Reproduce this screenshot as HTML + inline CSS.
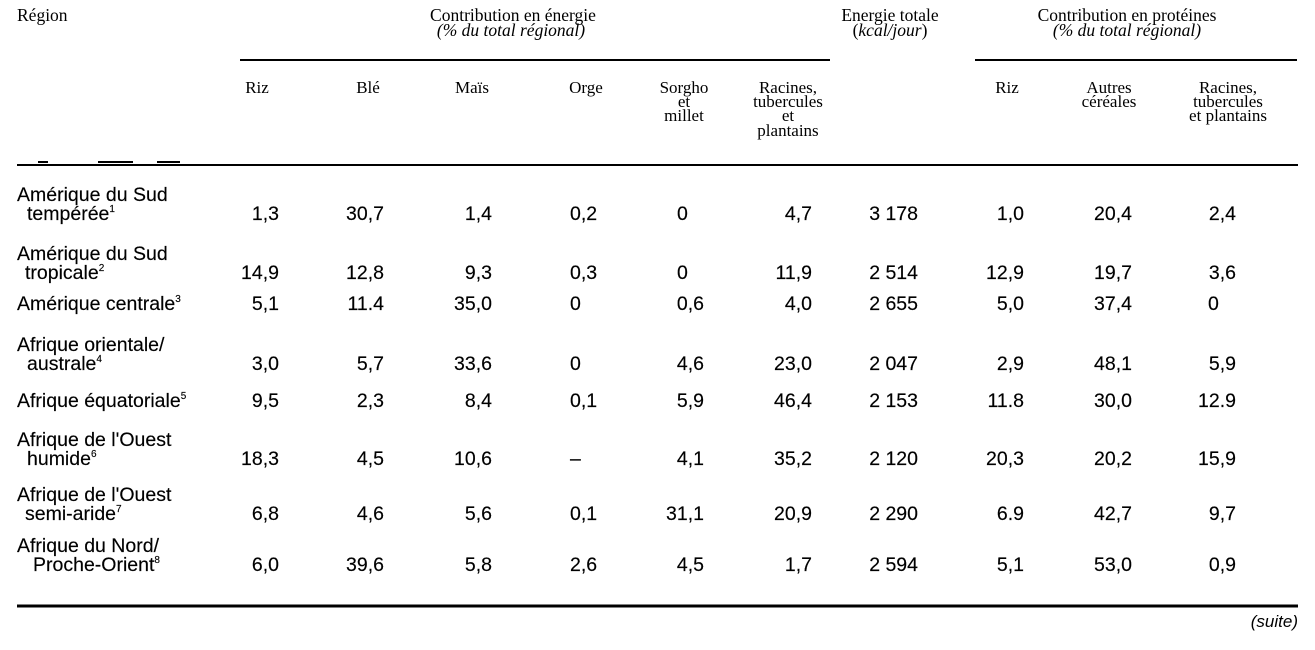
<!DOCTYPE html>
<html>
<head>
<meta charset="utf-8">
<style>
html,body{margin:0;padding:0;background:#fff;}
body{width:1315px;height:650px;overflow:hidden;}
svg{display:block;}
.h{font-family:"Liberation Serif",serif;font-size:17px;fill:#000;}
.hi{font-family:"Liberation Serif",serif;font-size:17.5px;font-style:italic;fill:#000;}
.b{font-family:"Liberation Sans",sans-serif;font-size:19.5px;fill:#000;stroke:#000;stroke-width:0.15px;}
.r{text-anchor:end;}
.m{text-anchor:middle;}
.sup{font-size:10px;}
</style>
</head>
<body>
<svg width="1315" height="650" viewBox="0 0 1315 650" xmlns="http://www.w3.org/2000/svg">
<rect width="1315" height="650" fill="#fff"/>

<!-- Header top -->
<text class="h" x="17" y="21" style="font-size:17.5px">Région</text>
<text class="h m" x="513" y="21" style="font-size:17.5px">Contribution en énergie</text>
<text class="hi m" x="511" y="36">(% du total régional)</text>
<text class="h m" x="890" y="21" style="font-size:17.5px">Energie totale</text>
<text class="h m" x="890" y="36" style="font-size:17.5px">(<tspan font-style="italic">kcal/jour</tspan>)</text>
<text class="h m" x="1127" y="21" style="font-size:17.5px">Contribution en protéines</text>
<text class="hi m" x="1127" y="36">(% du total régional)</text>

<!-- group lines -->
<rect x="240" y="59" width="590" height="2" fill="#000"/>
<rect x="975" y="59" width="322" height="2" fill="#000"/>

<!-- column headers -->
<text class="h m" x="257" y="93">Riz</text>
<text class="h m" x="368" y="93">Blé</text>
<text class="h m" x="472" y="93">Maïs</text>
<text class="h m" x="586" y="93">Orge</text>
<text class="h m" x="684" y="93">Sorgho</text>
<text class="h m" x="684" y="107">et</text>
<text class="h m" x="684" y="121">millet</text>
<text class="h m" x="788" y="93">Racines,</text>
<text class="h m" x="788" y="107">tubercules</text>
<text class="h m" x="788" y="121">et</text>
<text class="h m" x="788" y="136">plantains</text>
<text class="h m" x="1007" y="93">Riz</text>
<text class="h m" x="1109" y="93">Autres</text>
<text class="h m" x="1109" y="107">céréales</text>
<text class="h m" x="1228" y="93">Racines,</text>
<text class="h m" x="1228" y="107">tubercules</text>
<text class="h m" x="1228" y="121">et plantains</text>

<!-- header bottom rule -->
<rect x="17" y="164" width="1281" height="2" fill="#000"/>
<rect x="38" y="161" width="10" height="2" fill="#000"/>
<rect x="98" y="161" width="35" height="2" fill="#000"/>
<rect x="157" y="161" width="23" height="2" fill="#000"/>

<!-- Row labels -->
<text class="b" x="17" y="201">Amérique du Sud</text>
<text class="b" x="27" y="220">tempérée<tspan class="sup" dy="-8">1</tspan></text>
<text class="b" x="17" y="260">Amérique du Sud</text>
<text class="b" x="25" y="279">tropicale<tspan class="sup" dy="-8">2</tspan></text>
<text class="b" x="17" y="310">Amérique centrale<tspan class="sup" dy="-8">3</tspan></text>
<text class="b" x="17" y="351">Afrique orientale/</text>
<text class="b" x="27" y="370">australe<tspan class="sup" dy="-8">4</tspan></text>
<text class="b" x="17" y="407">Afrique équatoriale<tspan class="sup" dy="-8">5</tspan></text>
<text class="b" x="17" y="446">Afrique de l'Ouest</text>
<text class="b" x="27" y="465">humide<tspan class="sup" dy="-8">6</tspan></text>
<text class="b" x="17" y="501">Afrique de l'Ouest</text>
<text class="b" x="25" y="520">semi-aride<tspan class="sup" dy="-8">7</tspan></text>
<text class="b" x="17" y="552">Afrique du Nord/</text>
<text class="b" x="33" y="571">Proche-Orient<tspan class="sup" dy="-8">8</tspan></text>

<!-- Row 1 y=220 -->
<text class="b r" x="279" y="220">1,3</text>
<text class="b r" x="384" y="220">30,7</text>
<text class="b r" x="492" y="220">1,4</text>
<text class="b" x="570" y="220">0,2</text>
<text class="b" x="677" y="220">0</text>
<text class="b r" x="812" y="220">4,7</text>
<text class="b r" x="918" y="220">3 178</text>
<text class="b r" x="1024" y="220">1,0</text>
<text class="b r" x="1132" y="220">20,4</text>
<text class="b r" x="1236" y="220">2,4</text>

<!-- Row 2 y=279 -->
<text class="b r" x="279" y="279">14,9</text>
<text class="b r" x="384" y="279">12,8</text>
<text class="b r" x="492" y="279">9,3</text>
<text class="b" x="570" y="279">0,3</text>
<text class="b" x="677" y="279">0</text>
<text class="b r" x="812" y="279">11,9</text>
<text class="b r" x="918" y="279">2 514</text>
<text class="b r" x="1024" y="279">12,9</text>
<text class="b r" x="1132" y="279">19,7</text>
<text class="b r" x="1236" y="279">3,6</text>

<!-- Row 3 y=310 -->
<text class="b r" x="279" y="310">5,1</text>
<text class="b r" x="384" y="310">11.4</text>
<text class="b r" x="492" y="310">35,0</text>
<text class="b" x="570" y="310">0</text>
<text class="b r" x="704" y="310">0,6</text>
<text class="b r" x="812" y="310">4,0</text>
<text class="b r" x="918" y="310">2 655</text>
<text class="b r" x="1024" y="310">5,0</text>
<text class="b r" x="1132" y="310">37,4</text>
<text class="b" x="1208" y="310">0</text>

<!-- Row 4 y=370 -->
<text class="b r" x="279" y="370">3,0</text>
<text class="b r" x="384" y="370">5,7</text>
<text class="b r" x="492" y="370">33,6</text>
<text class="b" x="570" y="370">0</text>
<text class="b r" x="704" y="370">4,6</text>
<text class="b r" x="812" y="370">23,0</text>
<text class="b r" x="918" y="370">2 047</text>
<text class="b r" x="1024" y="370">2,9</text>
<text class="b r" x="1132" y="370">48,1</text>
<text class="b r" x="1236" y="370">5,9</text>

<!-- Row 5 y=407 -->
<text class="b r" x="279" y="407">9,5</text>
<text class="b r" x="384" y="407">2,3</text>
<text class="b r" x="492" y="407">8,4</text>
<text class="b" x="570" y="407">0,1</text>
<text class="b r" x="704" y="407">5,9</text>
<text class="b r" x="812" y="407">46,4</text>
<text class="b r" x="918" y="407">2 153</text>
<text class="b r" x="1024" y="407">11.8</text>
<text class="b r" x="1132" y="407">30,0</text>
<text class="b r" x="1236" y="407">12.9</text>

<!-- Row 6 y=465 -->
<text class="b r" x="279" y="465">18,3</text>
<text class="b r" x="384" y="465">4,5</text>
<text class="b r" x="492" y="465">10,6</text>
<text class="b" x="570" y="465">–</text>
<text class="b r" x="704" y="465">4,1</text>
<text class="b r" x="812" y="465">35,2</text>
<text class="b r" x="918" y="465">2 120</text>
<text class="b r" x="1024" y="465">20,3</text>
<text class="b r" x="1132" y="465">20,2</text>
<text class="b r" x="1236" y="465">15,9</text>

<!-- Row 7 y=520 -->
<text class="b r" x="279" y="520">6,8</text>
<text class="b r" x="384" y="520">4,6</text>
<text class="b r" x="492" y="520">5,6</text>
<text class="b" x="570" y="520">0,1</text>
<text class="b r" x="704" y="520">31,1</text>
<text class="b r" x="812" y="520">20,9</text>
<text class="b r" x="918" y="520">2 290</text>
<text class="b r" x="1024" y="520">6.9</text>
<text class="b r" x="1132" y="520">42,7</text>
<text class="b r" x="1236" y="520">9,7</text>

<!-- Row 8 y=571 -->
<text class="b r" x="279" y="571">6,0</text>
<text class="b r" x="384" y="571">39,6</text>
<text class="b r" x="492" y="571">5,8</text>
<text class="b" x="570" y="571">2,6</text>
<text class="b r" x="704" y="571">4,5</text>
<text class="b r" x="812" y="571">1,7</text>
<text class="b r" x="918" y="571">2 594</text>
<text class="b r" x="1024" y="571">5,1</text>
<text class="b r" x="1132" y="571">53,0</text>
<text class="b r" x="1236" y="571">0,9</text>

<!-- bottom rule -->
<rect x="17" y="604.5" width="1281" height="3" fill="#000"/>

<text x="1298" y="627" text-anchor="end" font-family="Liberation Sans, sans-serif" font-size="17px" font-style="italic" fill="#000">(suite)</text>
</svg>
</body>
</html>
